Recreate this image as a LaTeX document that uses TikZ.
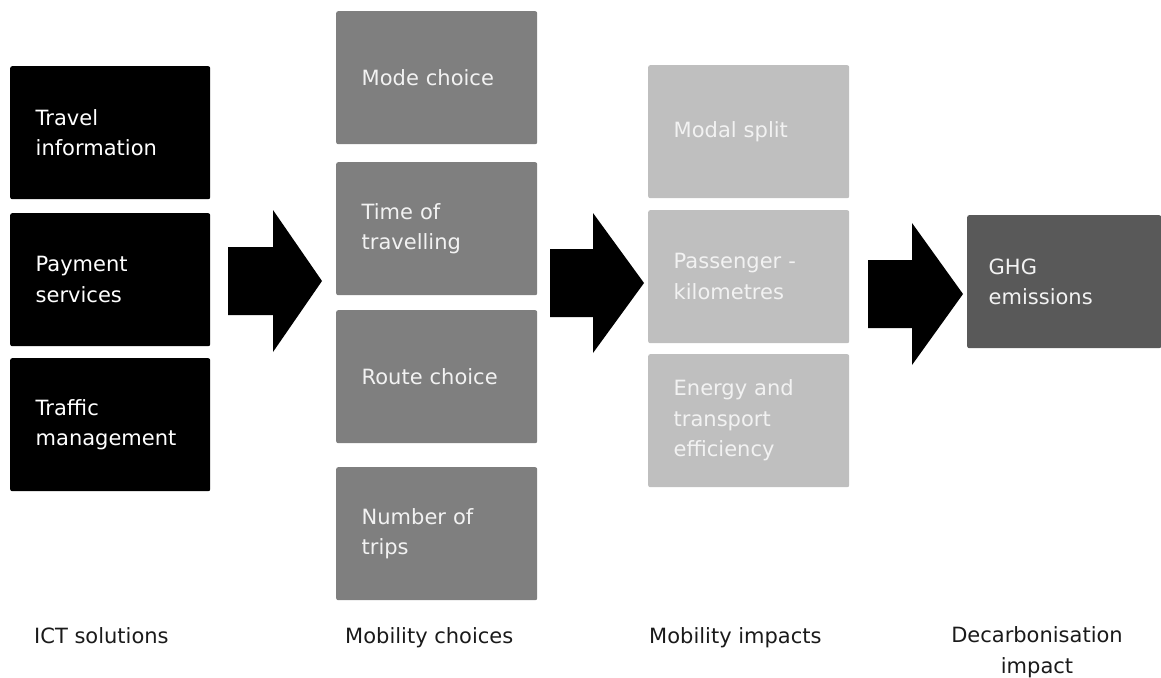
\documentclass[tikz,border=0pt]{standalone}
\usepackage{fontspec}
\setmainfont{DejaVu Sans}
\definecolor{ictfill}{HTML}{000000}
\definecolor{choicefill}{HTML}{7F7F7F}
\definecolor{impactfill}{HTML}{BFBFBF}
\definecolor{ghgfill}{HTML}{595959}
\definecolor{paneltext}{HTML}{F2F2F2}
\definecolor{labeltext}{HTML}{1A1A1A}
\begin{document}
\begin{tikzpicture}[x=1pt,y=-1pt,
  txt/.style={font=\fontsize{21}{30.5}\selectfont},
  panel/.style={txt, rectangle, rounded corners=2pt, anchor=north west,
    minimum height=133pt, text width=150pt, align=left,
    inner xsep=25.5pt, inner ysep=0pt, text=paneltext},
  ictbox/.style={panel, fill=ictfill, text width=149pt, text=white},
  choicebox/.style={panel, fill=choicefill},
  impactbox/.style={panel, fill=impactfill},
  ghgbox/.style={panel, fill=ghgfill, inner xsep=21.5pt, text width=151pt},
  colabel/.style={txt, text=labeltext, inner sep=0pt},
  flowarrow/.style={fill=black}
]
\useasboundingbox (0,0) rectangle (1161,677);

% ICT solutions
\node[ictbox] (travel)  at (10,66)  {Travel\\information};
\node[ictbox] (payment) at (10,213) {Payment\\services};
\node[ictbox] (traffic) at (10,358) {Traffic\\management};

% Mobility choices
\node[choicebox] (mode)   at (336,11)  {Mode choice};
\node[choicebox] (time)   at (336,162) {Time of\\travelling};
\node[choicebox] (route)  at (336,310) {Route choice};
\node[choicebox] (trips)  at (336,467) {Number of\\trips};

% Mobility impacts
\node[impactbox] (modal)  at (648,65)  {Modal split};
\node[impactbox] (pkm)    at (648,210) {Passenger -\\kilometres};
\node[impactbox] (energy) at (648,354) {Energy and\\transport\\efficiency};

% Decarbonisation impact
\node[ghgbox] (ghg) at (967,215) {GHG\\emissions};

% Block arrows between the columns
\fill[flowarrow] (228,247) -- (273,247) -- (273,210) -- (322,281)
  -- (273,352) -- (273,315) -- (228,315) -- cycle;
\fill[flowarrow] (550,249) -- (593,249) -- (593,213) -- (644,283)
  -- (593,353) -- (593,317) -- (550,317) -- cycle;
\fill[flowarrow] (868,260) -- (912,260) -- (912,223) -- (963,294)
  -- (912,365) -- (912,328) -- (868,328) -- cycle;

% Column captions
\node[colabel, anchor=base west] (lict) at (34,643)  {ICT solutions};
\node[colabel, anchor=base west] (lchoice) at (345,643) {Mobility choices};
\node[colabel, anchor=base west] (limpact) at (649,643) {Mobility impacts};
\node[colabel, anchor=base] (ldecarb) at (1037,642) {Decarbonisation};
\node[colabel, anchor=base] (limpact2) at (1037,673) {impact};
\end{tikzpicture}
\end{document}
